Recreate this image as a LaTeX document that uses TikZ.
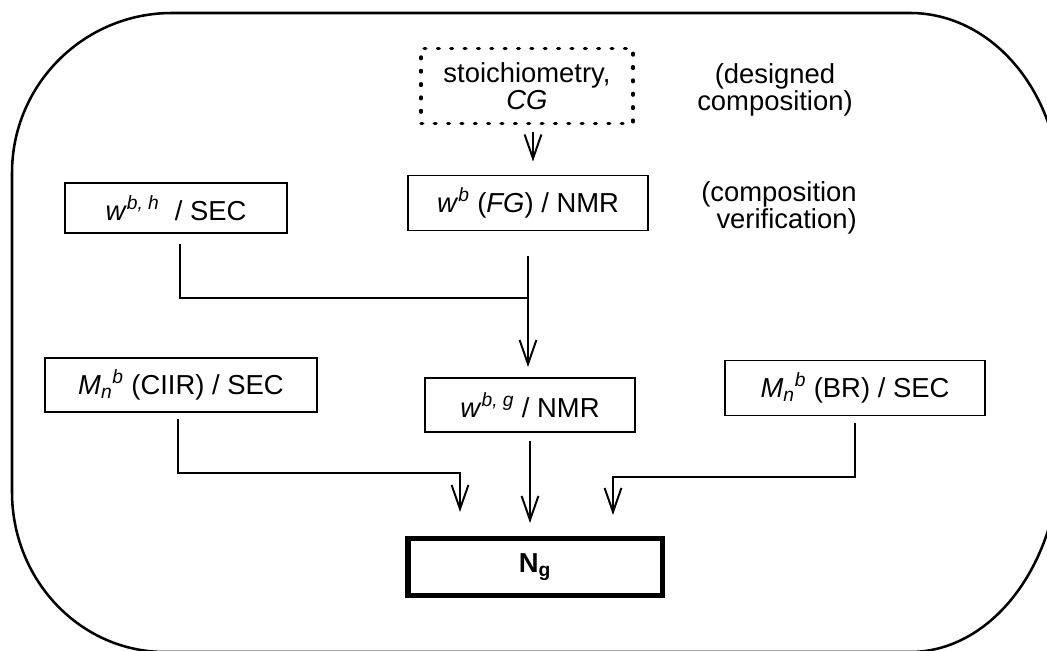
\documentclass[tikz,border=0pt]{standalone}
\usepackage{fontspec}
\setmainfont{Liberation Sans}
\usetikzlibrary{arrows.meta}

\tikzset{
  box/.style={draw, line width=1.4pt, inner sep=0pt, align=center,
    font=\fontsize{19.5}{19}\selectfont},
  dotbox/.style={box, line width=2.4pt, line cap=round, dash pattern=on 1.2pt off 8.3pt},
  resultbox/.style={box, line width=3.6pt},
  note/.style={align=center, font=\fontsize{19.5}{19}\selectfont},
  conn/.style={line width=1.4pt},
  arr/.style={conn, -{Straight Barb[length=6mm, width=4.2mm, line width=1.4pt]}}
}

\begin{document}
\begin{tikzpicture}[x=0.025cm, y=0.025cm]

                \useasboundingbox (0,0) rectangle (1047,651);

                % outer frame, cut off at the right and bottom
                \begin{scope}
                \clip (0,0) rectangle (1047,651);
                \draw[line width=1.8pt] (12,160) -- (12,478)
                    arc[start angle=180, end angle=90, radius=160] -- (910,638)
                    arc[start angle=90, end angle=0, x radius=150, y radius=180] -- (1060,199)
                    arc[start angle=0, end angle=-90, x radius=150, y radius=200] -- (165,-1)
                    arc[start angle=270, end angle=180, x radius=153, y radius=160] -- cycle;
                \end{scope}

                \node[dotbox, minimum width=5.3cm, minimum height=1.875cm] (stoich) at (527,565)
                    {stoichiometry,\\ \textit{CG}};
                \node[note] (designed) at (775,561) {(designed\\ composition)};

                \node[box, minimum width=5.525cm, minimum height=1.25cm] (wbh) at (176,443)
                    {\textit{w}\textsuperscript{\textit{b, h}}\ \ / SEC};
                \node[box, minimum width=6cm, minimum height=1.375cm] (wFG) at (528,448)
                    {\textit{w}\textsuperscript{\textit{b}} (\textit{FG}) / NMR};
                \node[note, align=right] (verif) at (779,443) {(composition\\ verification)};

                \node[box, minimum width=6.8cm, minimum height=1.35cm] (MnCIIR) at (181,266)
                    {\textit{M\textsubscript{n}\textsuperscript{b}} (CIIR) / SEC};
                \node[box, minimum width=5.25cm, minimum height=1.35cm] (wbg) at (530,246)
                    {\textit{w}\textsuperscript{\textit{b, g}}\ / NMR};
                \node[box, minimum width=6.475cm, minimum height=1.375cm] (MnBR) at (855,263)
                    {\textit{M\textsubscript{n}\textsuperscript{b}} (BR) / SEC};

                \node[resultbox, minimum width=6.35cm, minimum height=1.425cm] (Ng) at (535,84)
                    {\textbf{N\textsubscript{g}}};

                \coordinate (join) at (528,353);
                \coordinate (inL) at (460,178);
                \coordinate (inR) at (613,174);

                \draw[arr, shorten <=1.75mm, shorten >=3.25mm] (stoich.south -| 533,0) -- (wFG.north -| 533,0);
                \draw[conn, shorten <=2.5mm] (wbh.south -| 180,0) |- (join);
                \draw[arr, shorten <=6.25mm, shorten >=2.5mm] (wFG.south) -- (wFG.south |- wbg.north);

                \draw[arr, shorten <=1.5mm, shorten >=6mm] (MnCIIR.south -| 178,0) |- (inL) -- (inL |- Ng.north);
                \draw[arr, shorten <=2mm, shorten >=3.25mm] (wbg.south) -- (wbg.south |- Ng.north);
                \draw[arr, shorten <=1.75mm, shorten >=5.25mm] (MnBR.south) |- (inR) -- (inR |- Ng.north);

            \end{tikzpicture}
\end{document}
